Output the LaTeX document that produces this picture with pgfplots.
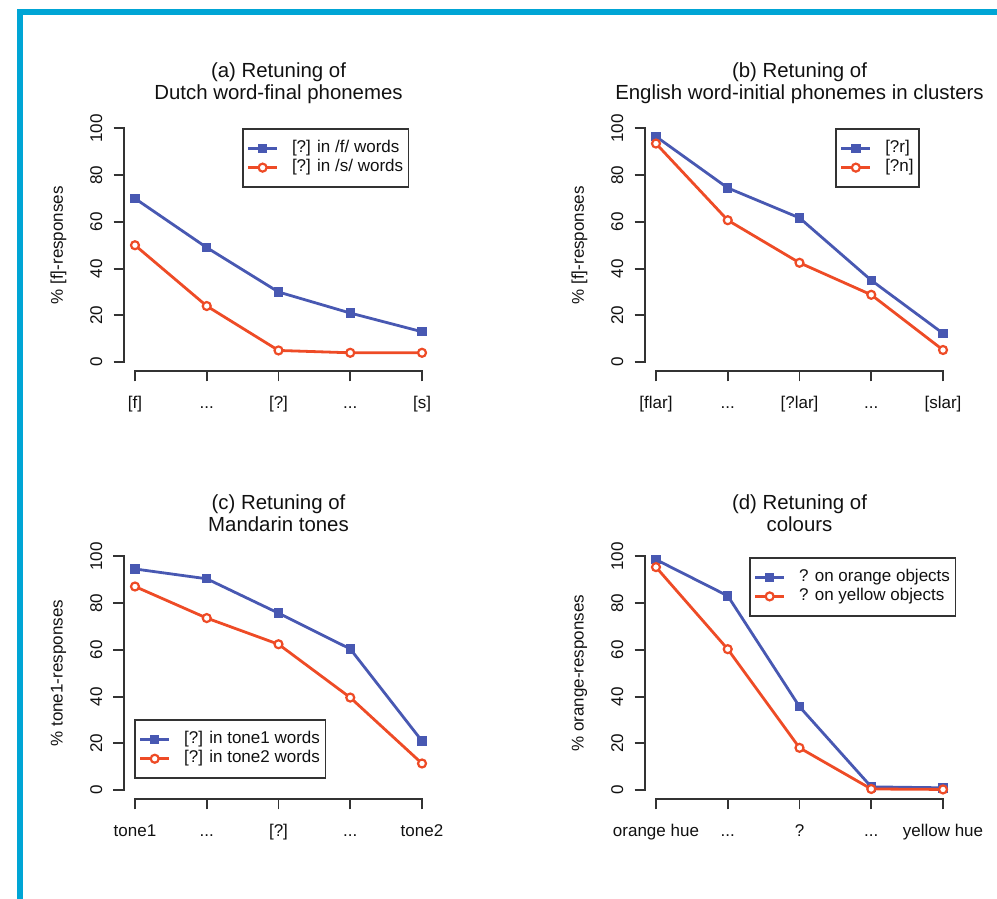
\documentclass[border=0pt]{standalone}
\usepackage{fontspec}
\setmainfont{Liberation Sans}
\usepackage{pgfplots}
\pgfplotsset{compat=1.18}
\definecolor{rblue}{HTML}{4858B2}
\definecolor{rred}{HTML}{EE4B26}
\definecolor{framecol}{HTML}{00A5D5}
\definecolor{axgray}{HTML}{333333}
\definecolor{txt}{HTML}{111111}
\newcommand{\dd}{...}

\pgfplotsset{
  rpanel/.style={
    scale only axis, width=310pt, height=252.5pt,
    xmin=0.84, xmax=5.16, ymin=-4, ymax=104,
    clip=false,
    separate axis lines,
    axis x line*=bottom, axis y line*=left,
    axis line style={draw=none},
    xtick={1,2,3,4,5}, ytick={0,20,40,60,80,100},
    yticklabels={0,20,40,60,80,100},
    tick align=outside, major tick length=10pt,
    tick style={axgray, line width=1.9pt},
    font=\fontsize{17}{20}\selectfont,
    xticklabel style={yshift=-15pt, anchor=north, inner sep=0pt, text height=12pt, text depth=3.5pt, text=txt},
    yticklabel style={xshift=-11pt, anchor=south, inner sep=0pt, rotate=90, text=txt},
    every axis y label/.style={at={(axis description cs:-0.21,0.5)}, rotate=90, anchor=center, text=txt},
    title style={align=center, font=\fontsize{20.4}{22}\selectfont, at={(0.5,1)}, anchor=south, inner sep=0pt, yshift=9pt, text=txt},
    legend cell align=left,
    legend style={draw=axgray, line width=1.6pt, inner xsep=4pt, inner ysep=10pt, column sep=12pt,
      font=\fontsize{17}{20}\selectfont, text=txt,
      nodes={inner sep=1.5pt, text height=12pt, text depth=4pt}},
    legend image code/.code={\draw[mark repeat=2,mark phase=2,##1] plot coordinates {(0pt,0pt) (14.5pt,0pt) (29pt,0pt)};},
  },
  bser/.style={rblue, line width=2.8pt, mark=square*, mark size=4.2pt, mark options={solid, fill=rblue, line width=1pt}},
  rser/.style={rred, line width=2.8pt, mark=*, mark size=4pt, mark options={solid, fill=white, draw=rred, line width=2.2pt}},
}
% R-style axis lines spanning only the tick range (panel origin x0,y0)
\newcommand{\raxlines}[2]{%
  \draw[draw=axgray, line width=2pt, line cap=rect] (#1+11.48,#2) -- (#1+298.52,#2);
  \draw[draw=axgray, line width=2pt, line cap=rect] (#1,#2+9.35) -- (#1,#2+243.15);
}

\begin{document}
\begin{tikzpicture}[x=1pt,y=1pt]
\path (0,0) rectangle (997,899);
\fill[framecol] (17,0) rectangle (22.5,890);
\fill[framecol] (17,884) rectangle (997,890);

% (a)
\begin{axis}[rpanel, at={(123.5pt,527.5pt)}, anchor=south west,
  title={(a) Retuning of\\Dutch word-final phonemes},
  ylabel={\% {}[f]-responses},
  xticklabels={{{}[f]},{\dd},{{}[?]},{\dd},{{}[s]}},
  legend style={at={(axis description cs:0.382,0.963)}, anchor=north west}]
\addplot[bser] coordinates {(1,70) (2,49) (3,30) (4,21) (5,13)};
\addlegendentry{{}[?] in /f/ words}
\addplot[rser] coordinates {(1,50) (2,24) (3,5) (4,4) (5,4)};
\addlegendentry{{}[?] in /s/ words}
\end{axis}

% (b)
\begin{axis}[rpanel, at={(644.5pt,527.5pt)}, anchor=south west,
  title={(b) Retuning of\\English word-initial phonemes in clusters},
  ylabel={\% {}[f]-responses},
  xticklabels={{{}[flar]},{\dd},{{}[?lar]},{\dd},{{}[slar]}},
  legend style={at={(axis description cs:0.615,0.963)}, anchor=north west}]
\addplot[bser] coordinates {(1,96.5) (2,74.5) (3,61.7) (4,35) (5,12.3)};
\addlegendentry{{}[?r]}
\addplot[rser] coordinates {(1,93.5) (2,60.7) (3,42.5) (4,28.8) (5,5.2)};
\addlegendentry{{}[?n]}
\end{axis}

% (c)
\begin{axis}[rpanel, at={(123.5pt,99.5pt)}, anchor=south west,
  title={(c) Retuning of\\Mandarin tones},
  ylabel={\% tone1-responses},
  xticklabels={{tone1},{\dd},{{}[?]},{\dd},{tone2}},
  legend style={at={(axis description cs:0.034,0.081)}, anchor=south west}]
\addplot[bser] coordinates {(1,94.6) (2,90.4) (3,75.7) (4,60.4) (5,21)};
\addlegendentry{{}[?] in tone1 words}
\addplot[rser] coordinates {(1,87.1) (2,73.6) (3,62.4) (4,39.6) (5,11.4)};
\addlegendentry{{}[?] in tone2 words}
\end{axis}

% (d)
\begin{axis}[rpanel, at={(644.5pt,99.5pt)}, anchor=south west,
  title={(d) Retuning of\\colours},
  ylabel={\% orange-responses},
  xticklabels={{orange hue},{\dd},{?},{\dd},{yellow hue}},
  legend style={at={(axis description cs:0.337,0.960)}, anchor=north west}]
\addplot[bser] coordinates {(1,98.6) (2,83.1) (3,35.7) (4,1.4) (5,1)};
\addlegendentry{? on orange objects}
\addplot[rser] coordinates {(1,95.4) (2,60.3) (3,18.1) (4,0.5) (5,0.3)};
\addlegendentry{? on yellow objects}
\end{axis}

\raxlines{123.5}{527.5}
\raxlines{644.5}{527.5}
\raxlines{123.5}{99.5}
\raxlines{644.5}{99.5}
\end{tikzpicture}
\end{document}
